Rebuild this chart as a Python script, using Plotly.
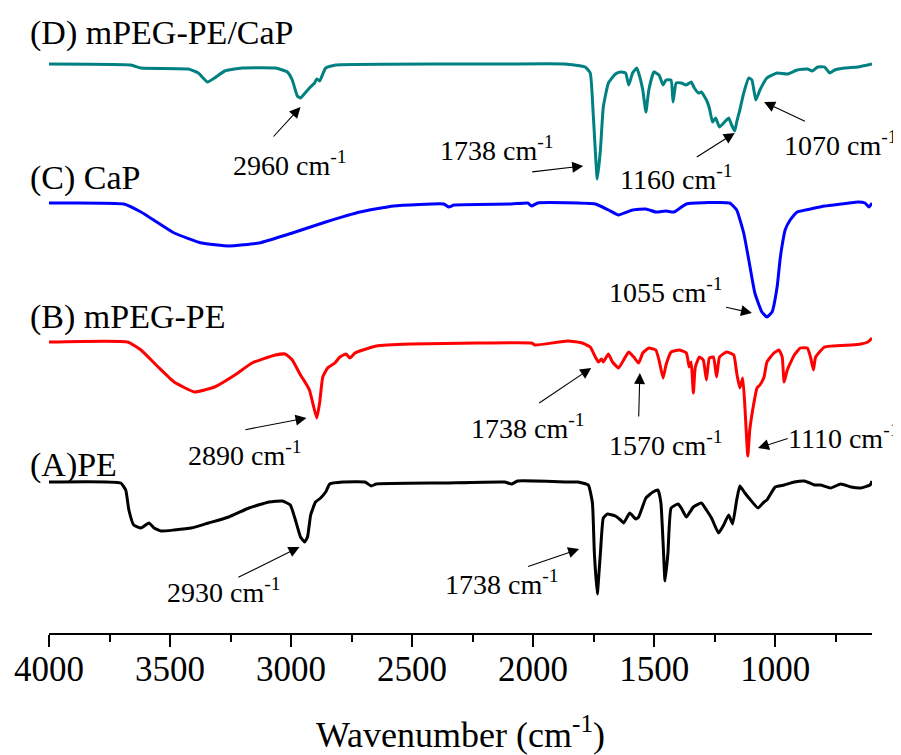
import plotly.graph_objects as go

# ---------------- data (wavenumber in cm-1, stacked transmittance in a.u.) ----------------
pe_wn = [4000, 3704, 3683, 3670, 3650, 3620, 3587, 3566, 3537, 3483, 3412, 3341, 3257, 3174, 3091, 3036,
         3003, 2982, 2961, 2944, 2932, 2919, 2899, 2878, 2857, 2840, 2786, 2694, 2669, 2648, 2369, 2118,
         2089, 2064, 1856, 1814, 1772, 1755, 1747, 1735, 1722, 1710, 1693, 1660, 1639, 1626, 1601, 1576,
         1564, 1534, 1505, 1484, 1472, 1463, 1455, 1443, 1430, 1401, 1388, 1367, 1338, 1305, 1284, 1263,
         1234, 1213, 1192, 1176, 1159, 1146, 1125, 1105, 1071, 1046, 1034, 1000, 963, 921, 879, 838,
         813, 771, 729, 687, 646, 608, 600]
pe_val = [151, 150, 143, 123, 108, 105, 110, 105, 102, 103, 105, 110, 116, 125, 131, 132,
          128, 113, 96, 91, 96, 118, 131, 135, 141, 149, 151, 151, 147, 149, 150, 151,
          149, 152, 151, 151, 148, 130, 80, 39, 80, 115, 119, 117, 113, 110, 120, 114,
          116, 135, 141, 143, 130, 90, 52, 80, 125, 129, 125, 116, 126, 130, 123, 115,
          100, 108, 118, 109, 133, 147, 140, 134, 125, 131, 133, 146, 148, 151, 152, 148,
          148, 145, 149, 146, 145, 148, 152]

mpeg_wn = [4000, 3675, 3620, 3549, 3483, 3399, 3316, 3232, 3161, 3065, 3024, 2995, 2961, 2940, 2924, 2894,
           2882, 2869, 2849, 2819, 2798, 2773, 2757, 2736, 2703, 2648, 2506, 2231, 2006, 1993, 1856, 1797,
           1764, 1743, 1730, 1718, 1710, 1689, 1672, 1647, 1626, 1605, 1584, 1564, 1547, 1522, 1493, 1480,
           1463, 1451, 1430, 1397, 1367, 1355, 1347, 1338, 1330, 1313, 1297, 1284, 1272, 1255, 1242, 1230,
           1201, 1171, 1159, 1146, 1134, 1125, 1113, 1105, 1088, 1075, 1063, 1046, 1034, 1005, 984, 971,
           963, 950, 921, 896, 867, 854, 842, 833, 796, 687, 646, 617, 600]
mpeg_val = [291, 291, 283, 266, 251, 241, 246, 258, 270, 278, 279, 273, 258, 250, 243, 215,
            230, 256, 265, 270, 276, 279, 275, 280, 283, 287, 289, 290, 290, 288, 292, 290,
            286, 276, 271, 274, 271, 279, 271, 265, 273, 281, 276, 270, 280, 285, 283, 273,
            255, 268, 281, 283, 280, 266, 271, 240, 266, 276, 273, 253, 275, 276, 256, 276,
            281, 278, 260, 245, 255, 226, 177, 203, 230, 245, 248, 256, 271, 280, 283, 276,
            251, 263, 278, 285, 285, 276, 263, 276, 286, 288, 289, 291, 295]

cap_wn = [4000, 3691, 3620, 3483, 3370, 3257, 3132, 2995, 2857, 2715, 2577, 2369, 2348, 2327, 2089, 2022,
          2006, 1981, 1743, 1689, 1647, 1589, 1534, 1493, 1451, 1418, 1367, 1188, 1159, 1130, 1109, 1084,
          1055, 1034, 1013, 992, 980, 971, 959, 938, 909, 854, 796, 729, 658, 629, 612, 600]
cap_val = [430, 429, 421, 400, 390, 387, 390, 400, 411, 421, 427, 429, 426, 428, 429, 430,
           427, 430, 429, 423, 418, 423, 424, 421, 422, 421, 429, 430, 423, 400, 373, 340,
           321, 316, 321, 346, 373, 388, 403, 413, 421, 424, 427, 429, 431, 430, 426, 430]

mix_wn = [4000, 3662, 3620, 3424, 3383, 3345, 3316, 3274, 3203, 3065, 3015, 2995, 2974, 2961, 2949, 2924,
          2903, 2894, 2882, 2857, 2815, 2369, 2118, 1868, 1785, 1764, 1751, 1735, 1722, 1710, 1689, 1660,
          1639, 1618, 1605, 1589, 1572, 1564, 1547, 1534, 1522, 1501, 1480, 1463, 1451, 1430, 1422, 1409,
          1388, 1367, 1347, 1334, 1317, 1305, 1284, 1272, 1259, 1246, 1230, 1209, 1192, 1180, 1167, 1159,
          1146, 1130, 1109, 1096, 1080, 1063, 1034, 992, 950, 909, 867, 846, 825, 796, 775, 754,
          712, 658, 600]
mix_val = [569, 568, 565, 564, 560, 551, 555, 562, 565, 565, 561, 553, 537, 535, 538, 545,
           550, 554, 552, 565, 568, 569, 569, 569, 566, 560, 516, 454, 483, 526, 550, 559,
           561, 560, 548, 560, 565, 560, 543, 521, 543, 561, 558, 548, 553, 553, 531, 550,
           550, 548, 551, 545, 540, 541, 533, 525, 511, 515, 506, 511, 515, 508, 502, 511,
           523, 540, 555, 553, 533, 543, 555, 560, 559, 563, 564, 562, 566, 566, 560, 563,
           565, 566, 569]

series_names = ["(A)PE", "(B) mPEG-PE", "(C) CaP", "(D) mPEG-PE/CaP"]
series_colors = ["#000000", "#FF0000", "#0000FF", "#008080"]

# sample labels: text and vertical value (placed at the left edge of the figure)
sample_labels = [("(D) mPEG-PE/CaP", 600), ("(C) CaP", 455), ("(B) mPEG-PE", 316), ("(A)PE", 168)]

# peak annotations: text, text position (wn, val), arrow tail (wn, val), arrow tip (wn, val)
peak_text = ["2960 cm<sup>-1</sup>", "1738 cm<sup>-1</sup>", "1160 cm<sup>-1</sup>", "1070 cm<sup>-1</sup>",
             "1055 cm<sup>-1</sup>", "2890 cm<sup>-1</sup>", "1738 cm<sup>-1</sup>", "1570 cm<sup>-1</sup>",
             "1110 cm<sup>-1</sup>", "2930 cm<sup>-1</sup>", "1738 cm<sup>-1</sup>"]
peak_text_pos = [(3005, 470), (2148, 485), (1409, 456), (728, 490), (1451, 343), (3191, 180),
                 (2022, 207), (1451, 190), (716, 197), (3278, 43), (2127, 51)]
arrow_tail = [(3078, 495), (2010, 461), (1330, 475), (871, 511), (1209, 326), (3195, 203),
              (1981, 229), (1564, 215), (942, 195), (3224, 55), (2027, 66)]
arrow_tip = [(2961, 526), (1793, 467), (1167, 500), (1046, 531), (1096, 320), (2936, 215),
             (1760, 265), (1559, 260), (1071, 185), (2965, 86), (1810, 84)]

# ---------------- figure ----------------
FONT = "Liberation Serif"
fig = go.Figure()
for wn, val, name, col in zip([pe_wn, mpeg_wn, cap_wn, mix_wn], [pe_val, mpeg_val, cap_val, mix_val],
                              series_names, series_colors):
    fig.add_trace(go.Scatter(x=wn, y=val, mode="lines", name=name,
                             line=dict(color=col, width=3, shape="spline", smoothing=0.4),
                             showlegend=False))

annotations = []
for txt, yv in sample_labels:
    annotations.append(dict(x=-0.026, y=yv, xref="paper", yref="y", text=txt, showarrow=False,
                            xanchor="left", yanchor="middle",
                            font=dict(family=FONT, size=34, color="black")))
for txt, (tx, ty) in zip(peak_text, peak_text_pos):
    annotations.append(dict(x=tx, y=ty, xref="x", yref="y", text=txt, showarrow=False,
                            xanchor="center", yanchor="middle",
                            font=dict(family=FONT, size=28, color="black")))
for (ax_, ay_), (x_, y_) in zip(arrow_tail, arrow_tip):
    annotations.append(dict(x=x_, y=y_, ax=ax_, ay=ay_, xref="x", yref="y", axref="x", ayref="y",
                            text="", showarrow=True, arrowhead=2, arrowsize=2.0, arrowwidth=1.1,
                            arrowcolor="black", standoff=0, startstandoff=0))

# the page body adds an 8px offset, so the figure is drawn 8px smaller than the window
fig.update_layout(
    width=893, height=747,
    margin=dict(l=41, r=29, t=0, b=122, autoexpand=False),
    paper_bgcolor="white", plot_bgcolor="white",
    annotations=annotations,
    font=dict(family=FONT, color="black"),
)
fig.update_xaxes(range=[4000, 600], showgrid=False, zeroline=False,
                 showline=True, linecolor="black", linewidth=2,
                 ticks="outside", ticklen=12, tickwidth=2, tickcolor="black",
                 tick0=0, dtick=500, ticklabelstandoff=-8,
                 minor=dict(ticks="outside", ticklen=7, tickwidth=2, tickcolor="black", dtick=250, tick0=0),
                 tickfont=dict(family=FONT, size=35, color="black"),
                 title=dict(text="Wavenumber (cm<sup>-1</sup>)",
                            font=dict(family=FONT, size=36, color="black"), standoff=34),
                 automargin=False)
fig.update_yaxes(visible=False, range=[0, 625])

fig.write_html("out.html")
